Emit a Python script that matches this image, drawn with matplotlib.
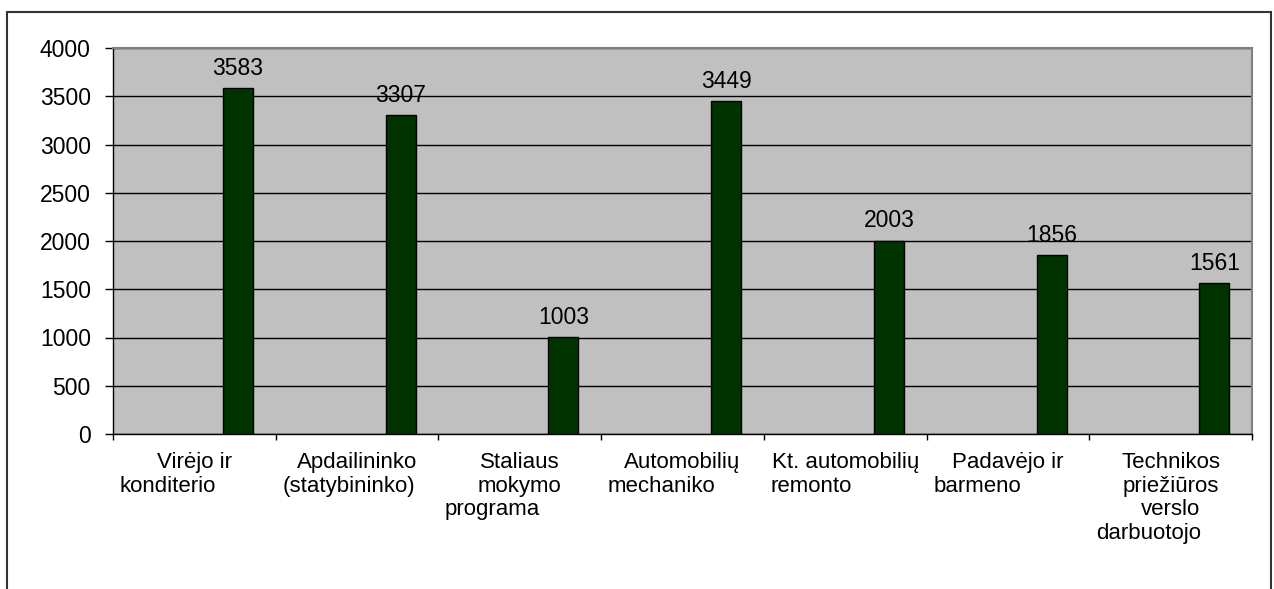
import matplotlib.pyplot as plt
from matplotlib.patches import Rectangle
from matplotlib.ticker import FixedLocator, NullFormatter

plt.rcParams['font.family'] = ['Liberation Sans', 'DejaVu Sans']

categories = [
    'Virėjo ir\nkonditerio',
    'Apdailininko\n(statybininko)',
    'Staliaus\nmokymo\nprograma',
    'Automobilių\nmechaniko',
    'Kt. automobilių\nremonto',
    'Padavėjo ir\nbarmeno',
    'Technikos\npriežiūros\nverslo\ndarbuotojo',
]
values = [3583, 3307, 1003, 3449, 2003, 1856, 1561]
y_ticks = [0, 500, 1000, 1500, 2000, 2500, 3000, 3500, 4000]

BAR_COLOR = '#003300'
PLOT_BG = '#C0C0C0'
FS = 16

fig = plt.figure(figsize=(12.74, 5.89), dpi=100)
ax = fig.add_axes([113 / 1274, 1 - 434 / 589, (1252 - 113) / 1274, (434 - 48) / 589])
ax.set_facecolor(PLOT_BG)

x = list(range(len(categories)))
bar_x = [i + 0.268 for i in x]
ax.bar(bar_x, values, width=0.184, color=BAR_COLOR, edgecolor='black', linewidth=1, zorder=3)

for bx, v in zip(bar_x, values):
    ax.annotate(str(v), (bx, v), xytext=(0, 6), textcoords='offset points',
                ha='center', va='bottom', fontsize=FS + 0.5, zorder=4)

ax.set_xlim(-0.5, len(categories) - 0.5)
ax.set_ylim(0, 4000)
ax.set_yticks(y_ticks)
ax.set_yticklabels([str(t) for t in y_ticks], fontsize=FS + 0.5)
ax.yaxis.grid(True, color='black', linewidth=1)
ax.set_axisbelow(True)
ax.tick_params(axis='y', direction='out', length=6, width=1, pad=10)

# category boundaries as minor ticks, labels drawn by hand
ax.xaxis.set_major_locator(FixedLocator(x))
ax.xaxis.set_major_formatter(NullFormatter())
ax.xaxis.set_minor_locator(FixedLocator([i - 0.5 for i in range(len(categories) + 1)]))
ax.tick_params(axis='x', which='major', length=0)
ax.tick_params(axis='x', which='minor', direction='out', length=4, width=1, color='black')

for i, lab in enumerate(categories):
    lines = lab.split('\n')
    for j, line in enumerate(lines):
        dy = -13 - j * 17
        if j < len(lines) - 1:
            ax.annotate(line, (i, 0), xycoords=('data', 'axes fraction'),
                        xytext=(0, dy), textcoords='offset points',
                        ha='center', va='top', fontsize=FS)
        else:
            ax.annotate(line, (i - 0.46, 0), xycoords=('data', 'axes fraction'),
                        xytext=(0, dy), textcoords='offset points',
                        ha='left', va='top', fontsize=FS)

for side in ['top', 'right']:
    ax.spines[side].set_color('#808080')
    ax.spines[side].set_linewidth(1.5)
for side in ['left', 'bottom']:
    ax.spines[side].set_color('black')
    ax.spines[side].set_linewidth(1)

fig.patches.append(Rectangle((7 / 1274, -0.02), 1264 / 1274, 1 - 12 / 589 + 0.02,
                             transform=fig.transFigure, fill=False,
                             edgecolor='#333333', linewidth=1.5))

fig.savefig('out.png', dpi=100)
